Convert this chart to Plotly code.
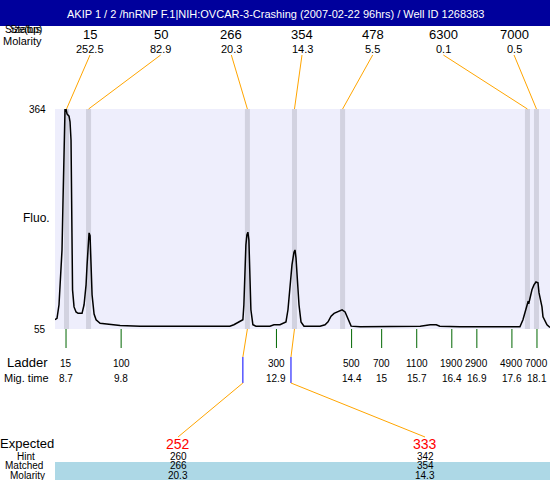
import plotly.graph_objects as go

# electropherogram trace (migration time, fluorescence)
mig_time = [8.48, 8.52, 8.56, 8.60, 8.62, 8.64, 8.66, 8.68, 8.70, 8.72, 8.76, 8.78, 8.80, 8.81,
            8.82, 8.83, 8.86, 8.90, 8.94, 9.02, 9.06, 9.10, 9.12, 9.14, 9.16, 9.18, 9.20, 9.22,
            9.26, 9.30, 9.38, 9.58, 9.78, 10.18, 11.97, 12.05, 12.17, 12.23, 12.25, 12.27, 12.29,
            12.31, 12.33, 12.35, 12.37, 12.39, 12.43, 12.49, 12.77, 12.85, 12.97, 13.09, 13.13,
            13.17, 13.21, 13.25, 13.27, 13.29, 13.31, 13.35, 13.39, 13.45, 13.77, 13.87, 13.93,
            13.99, 14.05, 14.13, 14.21, 14.27, 14.33, 14.39, 14.57, 14.97, 15.37, 15.65, 15.77,
            15.97, 16.09, 16.16, 16.56, 17.36, 17.76, 17.82, 17.88, 17.92, 17.94, 17.96, 18.00,
            18.04, 18.08, 18.12, 18.14, 18.20, 18.22, 18.30, 18.36]
fluo = [68, 70, 89, 138, 166, 236, 306, 364, 364, 357, 354, 346, 320, 236,
        152, 110, 86, 79, 77, 77, 89, 117, 145, 180, 190, 186, 145, 103,
        76, 68, 63, 61, 60, 59, 59, 61, 65, 68, 89, 138, 173,
        187, 191, 180, 124, 82, 61, 59, 59, 61, 61, 65, 82,
        117, 145, 163, 166, 155, 131, 89, 65, 59, 59, 61, 65,
        73, 77, 79, 82, 79, 70, 59, 58, 58, 58, 59, 59,
        61, 61, 59, 58, 58, 58, 68, 82, 93, 92, 100, 110,
        117, 121, 120, 106, 86, 72, 61, 57]

# detected peaks
peak_size = ["15", "50", "266", "354", "478", "6300", "7000"]
peak_molarity = ["252.5", "82.9", "20.3", "14.3", "5.5", "0.1", "0.5"]
peak_time = [8.71, 9.15, 12.32, 13.26, 14.22, 17.91, 18.09]

# ladder
ladder_size = ["15", "100", "300", "500", "700", "1100", "1900", "2900", "4900", "7000"]
ladder_time = [8.7, 9.8, 12.9, 14.4, 15.0, 15.7, 16.4, 16.9, 17.6, 18.1]

# expected fragments
expected = ["252", "333"]
hint = ["260", "342"]
matched = ["266", "354"]
matched_molarity = ["20.3", "14.3"]
matched_peak = [2, 3]
hint_time = [12.23, 13.19]

X_MIN, X_MAX = 8.48, 18.36
Y_MIN, Y_MAX = 55, 364
FONT = "Liberation Sans, Arial"
ORANGE = "#FFA500"


def px(x):
    return (x - 55) / 495


def py(y):
    return (329 - y) / 220


def px_to_t(x):
    return X_MIN + (x - 55) / 495 * (X_MAX - X_MIN)


fig = go.Figure()
fig.add_trace(go.Scatter(x=mig_time, y=fluo, mode="lines",
                         line=dict(color="black", width=1.5), hoverinfo="skip"))

shapes = []
annotations = []


def text(x, y, s, size=11, color="black", xref="paper", xanchor="center"):
    annotations.append(dict(x=x, y=y, xref=xref, yref="paper", text=s, showarrow=False,
                            xanchor=xanchor, yanchor="middle",
                            font=dict(family=FONT, size=size, color=color)))


# title bar
shapes.append(dict(type="rect", xref="paper", yref="paper", x0=px(0), x1=px(550),
                   y0=py(26), y1=py(0), fillcolor="#00009C", line=dict(width=0)))
text(px(275), py(14), "AKIP 1 / 2 /hnRNP F.1|NIH:OVCAR-3-Crashing (2007-02-22 96hrs) / Well ID 1268383",
     size=11, color="white")

# peak bands
for t in peak_time:
    shapes.append(dict(type="rect", xref="x", yref="paper", x0=t - 0.05, x1=t + 0.05,
                       y0=0, y1=1, fillcolor="#D2D2E0", line=dict(width=0), layer="below"))

# top peak labels with connectors
text(px(44), py(29), "Status", xanchor="right")
text(px(44), py(29), "Size(bp)", size=10, xanchor="right")
text(px(44), py(41), "Molarity", xanchor="right")
for i, (s, m, t) in enumerate(zip(peak_size, peak_molarity, peak_time)):
    lx = 90 + i * 70.67
    text(px(lx), py(35), s, size=13)
    text(px(lx), py(49), m, size=11)
    shapes.append(dict(type="line", xref="x", yref="paper", x0=px_to_t(lx), y0=py(55),
                       x1=t, y1=1, line=dict(color=ORANGE, width=1)))

# y labels
text(px(48), 1, "364", xanchor="right", size=10)
text(px(48), 0, "55", xanchor="right", size=10)
text(px(36), py(218), "Fluo.", size=12)

# ladder
text(px(27), py(362), "Ladder", size=13)
text(px(26), py(378), "Mig. time", size=11)
for s, t in zip(ladder_size, ladder_time):
    shapes.append(dict(type="line", xref="x", yref="paper", x0=t, x1=t, y0=0, y1=py(348),
                       line=dict(color="#006600", width=1)))
    text(t, py(363), s, size=10, xref="x")
    text(t, py(378), "%g" % t, size=10, xref="x")

# expected / matched table
shapes.append(dict(type="rect", xref="paper", yref="paper", x0=px(55), x1=px(550),
                   y0=py(480), y1=py(462), fillcolor="#ADD8E6", line=dict(width=0)))
text(px(27), py(443), "Expected", size=13)
text(px(26), py(456), "Hint", size=10)
text(px(24), py(466), "Matched", size=10)
text(px(27), py(475), "Molarity", size=10)
for e, h, m, mm, pk, ht, lx in zip(expected, hint, matched, matched_molarity,
                                   matched_peak, hint_time, [178, 425]):
    t = peak_time[pk]
    shapes.append(dict(type="line", xref="x", yref="paper", x0=t, y0=0, x1=ht, y1=py(357),
                       line=dict(color=ORANGE, width=1)))
    shapes.append(dict(type="line", xref="x", yref="paper", x0=ht, y0=py(357), x1=ht, y1=py(383),
                       line=dict(color="#0000FF", width=1)))
    shapes.append(dict(type="line", xref="x", yref="paper", x0=ht, y0=py(383),
                       x1=px_to_t(lx), y1=py(437), line=dict(color=ORANGE, width=1)))
    text(px(lx), py(444), e, size=14, color="#FF0000")
    text(px(lx), py(456), h, size=10)
    text(px(lx), py(466), m, size=10)
    text(px(lx), py(475), mm, size=10)

fig.update_layout(
    width=550, height=480,
    margin=dict(l=55, r=0, t=109, b=151, pad=0),
    plot_bgcolor="#EEEEFC", paper_bgcolor="white",
    showlegend=False,
    xaxis=dict(range=[X_MIN, X_MAX], visible=False, fixedrange=True),
    yaxis=dict(range=[Y_MIN, Y_MAX], visible=False, fixedrange=True),
    shapes=shapes, annotations=annotations,
)

fig.write_html("out.html", config={"displayModeBar": False},
               post_script="document.body.style.margin='0';document.body.style.overflow='hidden';")
